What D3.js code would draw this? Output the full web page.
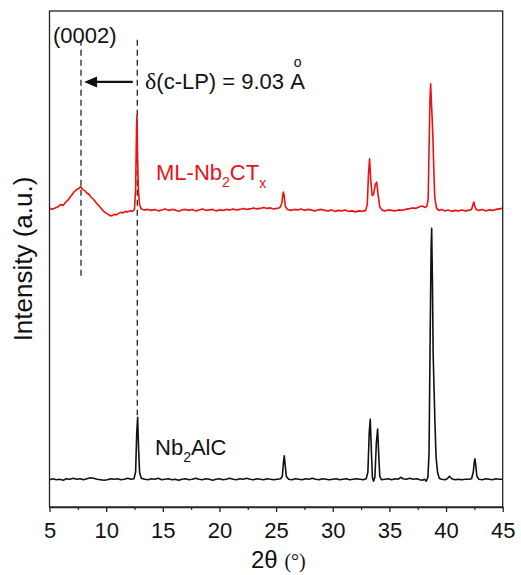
<!DOCTYPE html>
<html>
<head>
<meta charset="utf-8">
<script src="https://cdn.jsdelivr.net/npm/d3@7"></script>
<style>
  html, body { margin: 0; padding: 0; background: #fff; }
  svg { display: block; }
  text { font-family: "Liberation Sans", Arial, sans-serif; }
</style>
</head>
<body>
<svg id="chart" width="521" height="575"></svg>
<script>
// XRD patterns, [2θ (deg), intensity (a.u., stacked)]
const nb2alc = [
  [5.0,55],[5.3,57],[5.6,55],[5.9,56],[6.2,54],[6.5,57],[6.8,56],[7.1,58],[7.4,56],[7.7,57],
  [8.0,55],[8.3,57],[8.6,59],[8.9,58],[9.2,56],[9.5,55],[9.8,54],[10.1,55],[10.4,57],[10.7,56],
  [11.0,57],[11.3,55],[11.6,56],[11.9,58],[12.2,56],[12.45,57],[12.6,70],[12.7,150],[12.78,181],[12.86,120],
  [12.95,70],[13.1,58],[13.4,56],[13.7,55],[14.0,57],[14.3,56],[14.6,58],[14.9,55],[15.2,56],[15.5,57],
  [15.8,55],[16.1,56],[16.4,54],[16.7,56],[17.0,57],[17.3,55],[17.6,56],[17.9,58],[18.2,56],[18.5,55],
  [18.8,57],[19.1,56],[19.4,54],[19.7,56],[20.0,57],[20.3,55],[20.6,56],[20.9,58],[21.2,56],[21.5,55],
  [21.8,57],[22.1,56],[22.4,58],[22.7,56],[23.0,55],[23.3,57],[23.6,56],[23.9,55],[24.2,57],[24.5,56],
  [24.8,55],[25.1,56],[25.4,57],[25.55,62],[25.65,90],[25.72,103],[25.8,85],[25.9,62],[26.1,56],[26.4,55],
  [26.7,57],[27.0,56],[27.3,55],[27.6,57],[27.9,56],[28.2,58],[28.5,56],[28.8,55],[29.1,57],[29.4,56],
  [29.7,55],[30.0,56],[30.3,57],[30.6,55],[30.9,56],[31.2,57],[31.5,55],[31.8,56],[32.1,57],[32.4,56],
  [32.7,55],[32.95,57],[33.1,70],[33.22,150],[33.31,177],[33.4,120],[33.5,60],[33.6,52],[33.72,60],[33.85,130],
  [33.96,157],[34.05,110],[34.15,62],[34.3,55],[34.6,56],[34.9,57],[35.2,55],[35.5,57],[35.8,56],[36.0,60],
  [36.2,57],[36.5,56],[36.8,58],[37.1,56],[37.4,57],[37.7,55],[37.9,54],[38.1,56],[38.25,52],[38.4,60],
  [38.5,110],[38.6,350],[38.68,520],[38.73,562],[38.8,450],[38.86,310],[38.94,240],[39.02,169],[39.12,100],[39.25,70],
  [39.4,58],[39.6,56],[39.9,55],[40.1,57],[40.3,62],[40.5,57],[40.8,55],[41.1,56],[41.4,55],[41.7,56],
  [42.0,56],[42.25,57],[42.4,70],[42.5,92],[42.55,97],[42.62,85],[42.72,62],[42.9,56],[43.2,55],[43.5,57],
  [43.8,56],[44.1,55],[44.4,57],[44.7,56],[45.0,56]
];

const mlNb2CTx = [
  [5.0,603],[5.2,600],[5.4,602],[5.6,604],[5.8,606],[6.0,610],[6.2,608],[6.4,614],[6.6,618],[6.8,624],
  [7.0,630],[7.2,636],[7.4,640],[7.6,642],[7.75,646],[7.9,641],[8.1,638],[8.3,633],[8.5,630],[8.7,624],
  [8.9,620],[9.1,614],[9.3,609],[9.5,604],[9.7,598],[9.9,594],[10.1,591],[10.3,588],[10.5,587],[10.7,590],
  [10.9,589],[11.1,592],[11.3,594],[11.5,593],[11.7,596],[11.9,595],[12.1,597],[12.3,596],[12.5,600],[12.6,640],
  [12.68,760],[12.72,790],[12.78,700],[12.84,640],[12.95,610],[13.1,601],[13.4,599],[13.7,600],[14.0,598],[14.3,600],
  [14.6,597],[14.9,599],[15.2,601],[15.5,598],[15.8,600],[16.1,599],[16.4,596],[16.7,599],[17.0,600],[17.3,598],
  [17.6,600],[17.9,597],[18.2,599],[18.5,601],[18.8,598],[19.1,599],[19.4,600],[19.7,597],[20.0,599],[20.3,598],
  [20.6,600],[20.9,599],[21.2,601],[21.5,599],[21.8,600],[22.1,602],[22.4,600],[22.7,601],[23.0,603],[23.3,601],
  [23.6,602],[23.9,604],[24.2,602],[24.5,603],[24.8,601],[25.1,602],[25.35,604],[25.5,612],[25.6,630],[25.65,635],
  [25.72,625],[25.82,606],[26.0,600],[26.3,598],[26.6,600],[26.9,599],[27.2,601],[27.5,598],[27.8,600],[28.1,599],
  [28.4,597],[28.7,599],[29.0,600],[29.3,598],[29.6,597],[29.9,599],[30.2,596],[30.5,598],[30.8,597],[31.1,599],
  [31.4,596],[31.7,597],[32.0,595],[32.3,597],[32.6,596],[32.9,598],[33.05,610],[33.15,670],[33.25,702],[33.35,660],
  [33.48,628],[33.6,630],[33.75,650],[33.88,655],[34.0,630],[34.15,605],[34.35,599],[34.6,597],[34.9,599],[35.2,598],
  [35.5,597],[35.8,599],[36.1,598],[36.4,600],[36.7,601],[37.0,603],[37.3,602],[37.6,605],[37.9,607],[38.1,604],
  [38.3,606],[38.42,620],[38.5,720],[38.58,820],[38.64,853],[38.7,820],[38.76,790],[38.84,745],[38.92,680],[39.0,625],
  [39.15,603],[39.35,598],[39.6,600],[39.9,597],[40.2,599],[40.5,596],[40.8,598],[41.1,597],[41.4,599],[41.7,597],
  [42.0,598],[42.25,600],[42.38,610],[42.45,615],[42.52,608],[42.65,600],[42.9,598],[43.2,600],[43.5,597],[43.8,599],
  [44.1,598],[44.4,600],[44.7,601],[45.0,602]
];

const xTicks = [5, 10, 15, 20, 25, 30, 35, 40, 45];
const xMinorTicks = [7.5, 12.5, 17.5, 22.5, 27.5, 32.5, 37.5, 42.5];

// (0002) peak positions marked by dashed guides: [2θ, top, bottom]
const guides = [[7.78, 942, 462], [12.75, 942, 185]];
// interlayer shift arrow: [from 2θ, to 2θ, intensity]
const shiftArrow = [12.35, 8.05, 857];

const svg = d3.select("#chart");
const plotLeft = 49.5, plotRight = 502.7, plotTop = 11, plotBottom = 507;

const x = d3.scaleLinear().domain([5, 45]).range([plotLeft, plotRight]);
const y = d3.scaleLinear().domain([0, 1000]).range([plotBottom, plotTop]);

svg.append("defs").append("clipPath").attr("id", "plotClip")
  .append("rect").attr("x", plotLeft).attr("y", plotTop)
  .attr("width", plotRight - plotLeft).attr("height", plotBottom - plotTop);

// dashed guides
svg.append("g").selectAll("line").data(guides).join("line")
  .attr("x1", d => x(d[0])).attr("x2", d => x(d[0]))
  .attr("y1", d => y(d[1])).attr("y2", d => y(d[2]))
  .attr("stroke", "#333").attr("stroke-width", 1.4)
  .attr("stroke-dasharray", "6,4");

// patterns
const line = d3.line().x(d => x(d[0])).y(d => y(d[1]));
const plot = svg.append("g").attr("clip-path", "url(#plotClip)");
plot.append("path").datum(nb2alc).attr("d", line)
  .attr("fill", "none").attr("stroke", "#111").attr("stroke-width", 1.6)
  .attr("stroke-linejoin", "round");
plot.append("path").datum(mlNb2CTx).attr("d", line)
  .attr("fill", "none").attr("stroke", "#f01010").attr("stroke-width", 1.6)
  .attr("stroke-linejoin", "round");

// frame
svg.append("rect").attr("x", plotLeft).attr("y", plotTop)
  .attr("width", plotRight - plotLeft).attr("height", plotBottom - plotTop)
  .attr("fill", "none").attr("stroke", "#222").attr("stroke-width", 1.3);

// x axis
const xAxis = svg.append("g").attr("transform", `translate(0,${plotBottom})`)
  .call(d3.axisBottom(x).tickValues(xTicks).tickSize(5).tickSizeOuter(0).tickPadding(10));
xAxis.select(".domain").attr("stroke", "#222").attr("stroke-width", 1.3);
xAxis.selectAll(".tick line").attr("stroke", "#222").attr("stroke-width", 1.3);
xAxis.selectAll(".tick text").attr("font-size", 22).attr("fill", "#111")
  .attr("font-family", "Liberation Sans, Arial, sans-serif");

const xMinor = svg.append("g").attr("transform", `translate(0,${plotBottom})`)
  .call(d3.axisBottom(x).tickValues(xMinorTicks).tickSize(3).tickSizeOuter(0).tickFormat(""));
xMinor.select(".domain").remove();
xMinor.selectAll(".tick line").attr("stroke", "#222").attr("stroke-width", 1.2);

// axis titles
const xt = svg.append("text").attr("x", 251).attr("y", 568).attr("fill", "#111");
xt.append("tspan").attr("font-size", 24).text("2θ ");
xt.append("tspan").attr("font-size", 20).attr("font-family", "Liberation Serif, Times New Roman, serif").text("(°)");

svg.append("text")
  .attr("transform", `translate(32,${(plotTop + plotBottom) / 2}) rotate(-90)`)
  .attr("text-anchor", "middle").attr("font-size", 26).attr("fill", "#111")
  .text("Intensity (a.u.)");

// annotations
svg.append("text").attr("x", 53).attr("y", 43).attr("font-size", 22).attr("fill", "#111").text("(0002)");

svg.append("line")
  .attr("x1", x(shiftArrow[0])).attr("x2", x(shiftArrow[1]) + 9)
  .attr("y1", y(shiftArrow[2])).attr("y2", y(shiftArrow[2]))
  .attr("stroke", "#111").attr("stroke-width", 2.2);
{
  const ax = x(shiftArrow[1]), ay = y(shiftArrow[2]);
  svg.append("path")
    .attr("d", `M${ax},${ay} L${ax + 13},${ay - 5.5} L${ax + 13},${ay + 5.5} Z`)
    .attr("fill", "#111");
}

const dt = svg.append("text").attr("x", 145).attr("y", 89).attr("font-size", 22).attr("fill", "#111");
dt.append("tspan").attr("font-family", "Liberation Serif, Times New Roman, serif").attr("font-size", 24).text("δ");
dt.append("tspan").text("(c-LP) = 9.03 ");
dt.append("tspan").attr("id", "angA").text("A");
svg.append("text").attr("id", "ring").attr("font-size", 14).attr("fill", "#111")
  .attr("text-anchor", "middle").text("o");
{
  const bb = document.getElementById("angA").getExtentOfChar(0);
  d3.select("#ring").attr("x", bb.x + bb.width / 2).attr("y", 67);
}

// series labels
const redLab = svg.append("text").attr("x", 156).attr("y", 180).attr("font-size", 22).attr("fill", "#e8141c");
redLab.append("tspan").text("ML-Nb");
redLab.append("tspan").attr("font-size", 14).attr("dy", 7).text("2");
redLab.append("tspan").attr("dy", -7).text("CT");
redLab.append("tspan").attr("font-size", 14).attr("dy", 8).text("x");

const blkLab = svg.append("text").attr("x", 155).attr("y", 455).attr("font-size", 22).attr("fill", "#111");
blkLab.append("tspan").text("Nb");
blkLab.append("tspan").attr("font-size", 14).attr("dy", 7).text("2");
blkLab.append("tspan").attr("dy", -7).text("AlC");
</script>
</body>
</html>
